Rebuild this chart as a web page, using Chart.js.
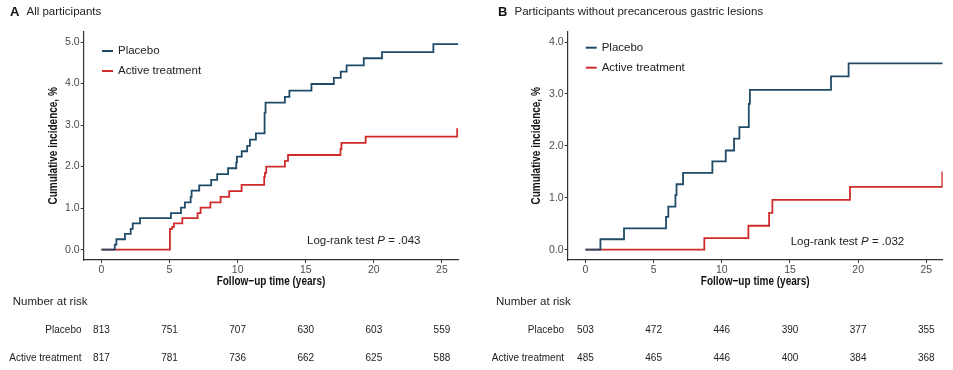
<!DOCTYPE html>
<html>
<head>
<meta charset="utf-8">
<script src="https://cdn.jsdelivr.net/npm/chart.js@4"></script>
<style>
  html, body { margin: 0; padding: 0; background: #fff; }
  body { width: 953px; height: 370px; position: relative; overflow: hidden; }
  canvas { position: absolute; top: 0; }
</style>
</head>
<body>
<canvas id="chartA" width="476" height="370" style="left:0"></canvas>
<canvas id="chartB" width="477" height="370" style="left:476px"></canvas>
<script>
// follow-up years and tick labels
const xTicks = [0, 5, 10, 15, 20, 25];
const yTicksA = [0, 1, 2, 3, 4, 5];
const yTicksB = [0, 1, 2, 3, 4];
const riskLabels = ["Placebo", "Active treatment"];

// panel A: all participants (times in years, cumulative incidence %)
const placeboTimesA = [0, 0.98, 1.1, 1.73, 2.15, 2.3, 2.83, 5.1, 5.84, 6.13, 6.55, 6.62, 7.18, 8.06, 8.5, 9.3, 9.9, 9.95, 10.3, 10.7, 10.9, 11.34, 11.98, 12.05, 13.47, 13.8, 15.42, 17.06, 17.57, 18.0, 19.26, 20.6, 24.37, 26.2];
const placeboIncA = [0, 0.12, 0.25, 0.38, 0.5, 0.63, 0.76, 0.88, 1.01, 1.14, 1.27, 1.42, 1.55, 1.68, 1.82, 1.96, 2.1, 2.24, 2.37, 2.5, 2.65, 2.8, 3.3, 3.54, 3.68, 3.83, 3.99, 4.14, 4.29, 4.44, 4.61, 4.76, 4.95, 4.95];
const activeTimesA = [0, 5.03, 5.2, 5.33, 5.94, 7.06, 7.28, 8.0, 8.75, 9.38, 10.29, 11.95, 12.0, 12.1, 13.47, 13.7, 17.55, 17.62, 19.4, 26.12, 26.2];
const activeIncA = [0, 0.5, 0.55, 0.63, 0.76, 0.88, 1.01, 1.14, 1.27, 1.41, 1.56, 1.75, 1.85, 2.0, 2.14, 2.28, 2.42, 2.57, 2.72, 2.9, 2.9];
const riskPlaceboA = [813, 751, 707, 630, 603, 559];
const riskActiveA = [817, 781, 736, 662, 625, 588];

// panel B: participants without precancerous gastric lesions
const placeboTimesB = [0, 1.1, 2.83, 5.91, 6.08, 6.6, 6.68, 7.16, 9.31, 10.29, 10.9, 11.29, 11.98, 12.06, 18.01, 19.3, 26.2];
const placeboIncB = [0, 0.2, 0.41, 0.63, 0.83, 1.05, 1.26, 1.48, 1.7, 1.91, 2.14, 2.36, 2.81, 3.08, 3.34, 3.59, 3.59];
const activeTimesB = [0, 8.72, 11.95, 13.47, 13.71, 19.4, 26.17, 26.2];
const activeIncB = [0, 0.22, 0.46, 0.71, 0.96, 1.21, 1.49, 1.49];
const riskPlaceboB = [503, 472, 446, 390, 377, 355];
const riskActiveB = [485, 465, 446, 400, 384, 368];

const placeboColor = "#1f4b68";
const activeColor = "#cf2b2b";
const axisColor = "#333333";
const sans = "Arial, 'Liberation Sans', sans-serif";

function toPoints(times, values) {
  return times.map((t, i) => ({ x: t, y: values[i] }));
}

// bold, condensed axis title (the original uses a narrow face)
function narrowText(ctx, text, x, y, rot) {
  ctx.save();
  ctx.translate(x, y);
  ctx.rotate(rot);
  ctx.scale(0.77, 1);
  ctx.font = "bold 13px " + sans;
  ctx.fillStyle = "#111";
  ctx.textAlign = "center";
  ctx.textBaseline = "middle";
  ctx.fillText(text, 0, 0);
  ctx.restore();
}

function makeChart(id, cfg) {
  const extras = {
    id: "extras",
    afterDraw(chart) {
      const ctx = chart.ctx;
      const xs = chart.scales.x;
      const area = chart.chartArea;
      ctx.save();
      ctx.textBaseline = "middle";

      // axis titles
      narrowText(ctx, "Follow\u2212up time (years)", (area.left + area.right) / 2, 281, 0);
      narrowText(ctx, "Cumulative incidence, %", cfg.yTitleX, (area.top + area.bottom) / 2, -Math.PI / 2);

      // panel title
      ctx.fillStyle = "#111";
      ctx.textAlign = "left";
      ctx.font = "bold 13px " + sans;
      ctx.fillText(cfg.letter, cfg.titleX, 12);
      ctx.font = "11.5px " + sans;
      ctx.fillStyle = "#222";
      ctx.fillText(cfg.title, cfg.titleX + 16.5, 12);

      // legend
      const legend = [["Placebo", placeboColor], ["Active treatment", activeColor]];
      legend.forEach((item, i) => {
        const y = cfg.legendY + i * 20;
        ctx.strokeStyle = item[1];
        ctx.lineWidth = 2;
        ctx.beginPath();
        ctx.moveTo(cfg.legendX, y);
        ctx.lineTo(cfg.legendX + 11, y);
        ctx.stroke();
        ctx.fillStyle = "#222";
        ctx.font = "11.5px " + sans;
        ctx.fillText(item[0], cfg.legendX + 16, y);
      });

      // log-rank annotation
      let tx = cfg.logX;
      const parts = [["Log-rank test ", ""], ["P", "italic "], [" = " + cfg.pValue, ""]];
      parts.forEach(p => {
        ctx.font = p[1] + "11.5px " + sans;
        ctx.fillText(p[0], tx, cfg.logY);
        tx += ctx.measureText(p[0]).width;
      });

      // number at risk table
      ctx.font = "11.5px " + sans;
      ctx.fillStyle = "#222";
      ctx.fillText("Number at risk", cfg.riskTitleX, 302);
      const rows = [cfg.riskPlacebo, cfg.riskActive];
      rows.forEach((row, r) => {
        const y = 330.5 + r * 27.5;
        ctx.font = "10px " + sans;
        ctx.textAlign = "right";
        ctx.fillText(riskLabels[r], cfg.riskLabelX, y);
        ctx.textAlign = "center";
        row.forEach((n, i) => {
          ctx.fillText(String(n), xs.getPixelForValue(xTicks[i]), y);
        });
      });
      ctx.restore();
    }
  };

  return new Chart(document.getElementById(id), {
    type: "line",
    data: {
      datasets: [
        { label: "Placebo", data: cfg.placebo, borderColor: placeboColor },
        { label: "Active treatment", data: cfg.active, borderColor: activeColor }
      ]
    },
    options: {
      responsive: false,
      animation: false,
      events: [],
      layout: { padding: { left: 0, top: 31.7, right: cfg.padRight, bottom: 70 } },
      elements: {
        line: { stepped: true, borderWidth: 1.8, tension: 0 },
        point: { radius: 0 }
      },
      plugins: { legend: { display: false }, tooltip: { enabled: false } },
      scales: {
        x: {
          type: "linear",
          min: -1.3,
          max: 26.2,
          afterBuildTicks: s => { s.ticks = xTicks.map(v => ({ value: v })); },
          afterFit: s => { s.height = 40; },
          grid: { drawOnChartArea: false, drawTicks: true, tickLength: 3, tickColor: axisColor },
          border: { display: true, color: axisColor, width: 1.2 },
          ticks: { color: "#4d4d4d", font: { size: 10.5, family: sans }, padding: 1, maxRotation: 0 }
        },
        y: {
          type: "linear",
          min: cfg.yMin,
          max: cfg.yMax,
          afterBuildTicks: s => { s.ticks = cfg.yTicks.map(v => ({ value: v })); },
          afterFit: s => { s.width = cfg.yWidth; },
          grid: { drawOnChartArea: false, drawTicks: true, tickLength: 3, tickColor: axisColor },
          border: { display: true, color: axisColor, width: 1.2 },
          ticks: { color: "#4d4d4d", font: { size: 10.5, family: sans }, padding: 1, callback: v => v.toFixed(1) }
        }
      }
    },
    plugins: [extras]
  });
}

makeChart("chartA", {
  placebo: toPoints(placeboTimesA, placeboIncA),
  active: toPoints(activeTimesA, activeIncA),
  yTicks: yTicksA, yMin: -0.25, yMax: 5.25,
  yWidth: 83.7, padRight: 17.7, yTitleX: 53,
  letter: "A", title: "All participants", titleX: 10,
  legendX: 102, legendY: 51,
  logX: 307, logY: 240.7, pValue: ".043",
  riskTitleX: 12.7, riskLabelX: 81.5,
  riskPlacebo: riskPlaceboA, riskActive: riskActiveA
});

makeChart("chartB", {
  placebo: toPoints(placeboTimesB, placeboIncB),
  active: toPoints(activeTimesB, activeIncB),
  yTicks: yTicksB, yMin: -0.2, yMax: 4.2,
  yWidth: 91.7, padRight: 10.3, yTitleX: 60.7,
  letter: "B", title: "Participants without precancerous gastric lesions", titleX: 22,
  legendX: 109.7, legendY: 47.7,
  logX: 314.7, logY: 242, pValue: ".032",
  riskTitleX: 20, riskLabelX: 88,
  riskPlacebo: riskPlaceboB, riskActive: riskActiveB
});
</script>
</body>
</html>
